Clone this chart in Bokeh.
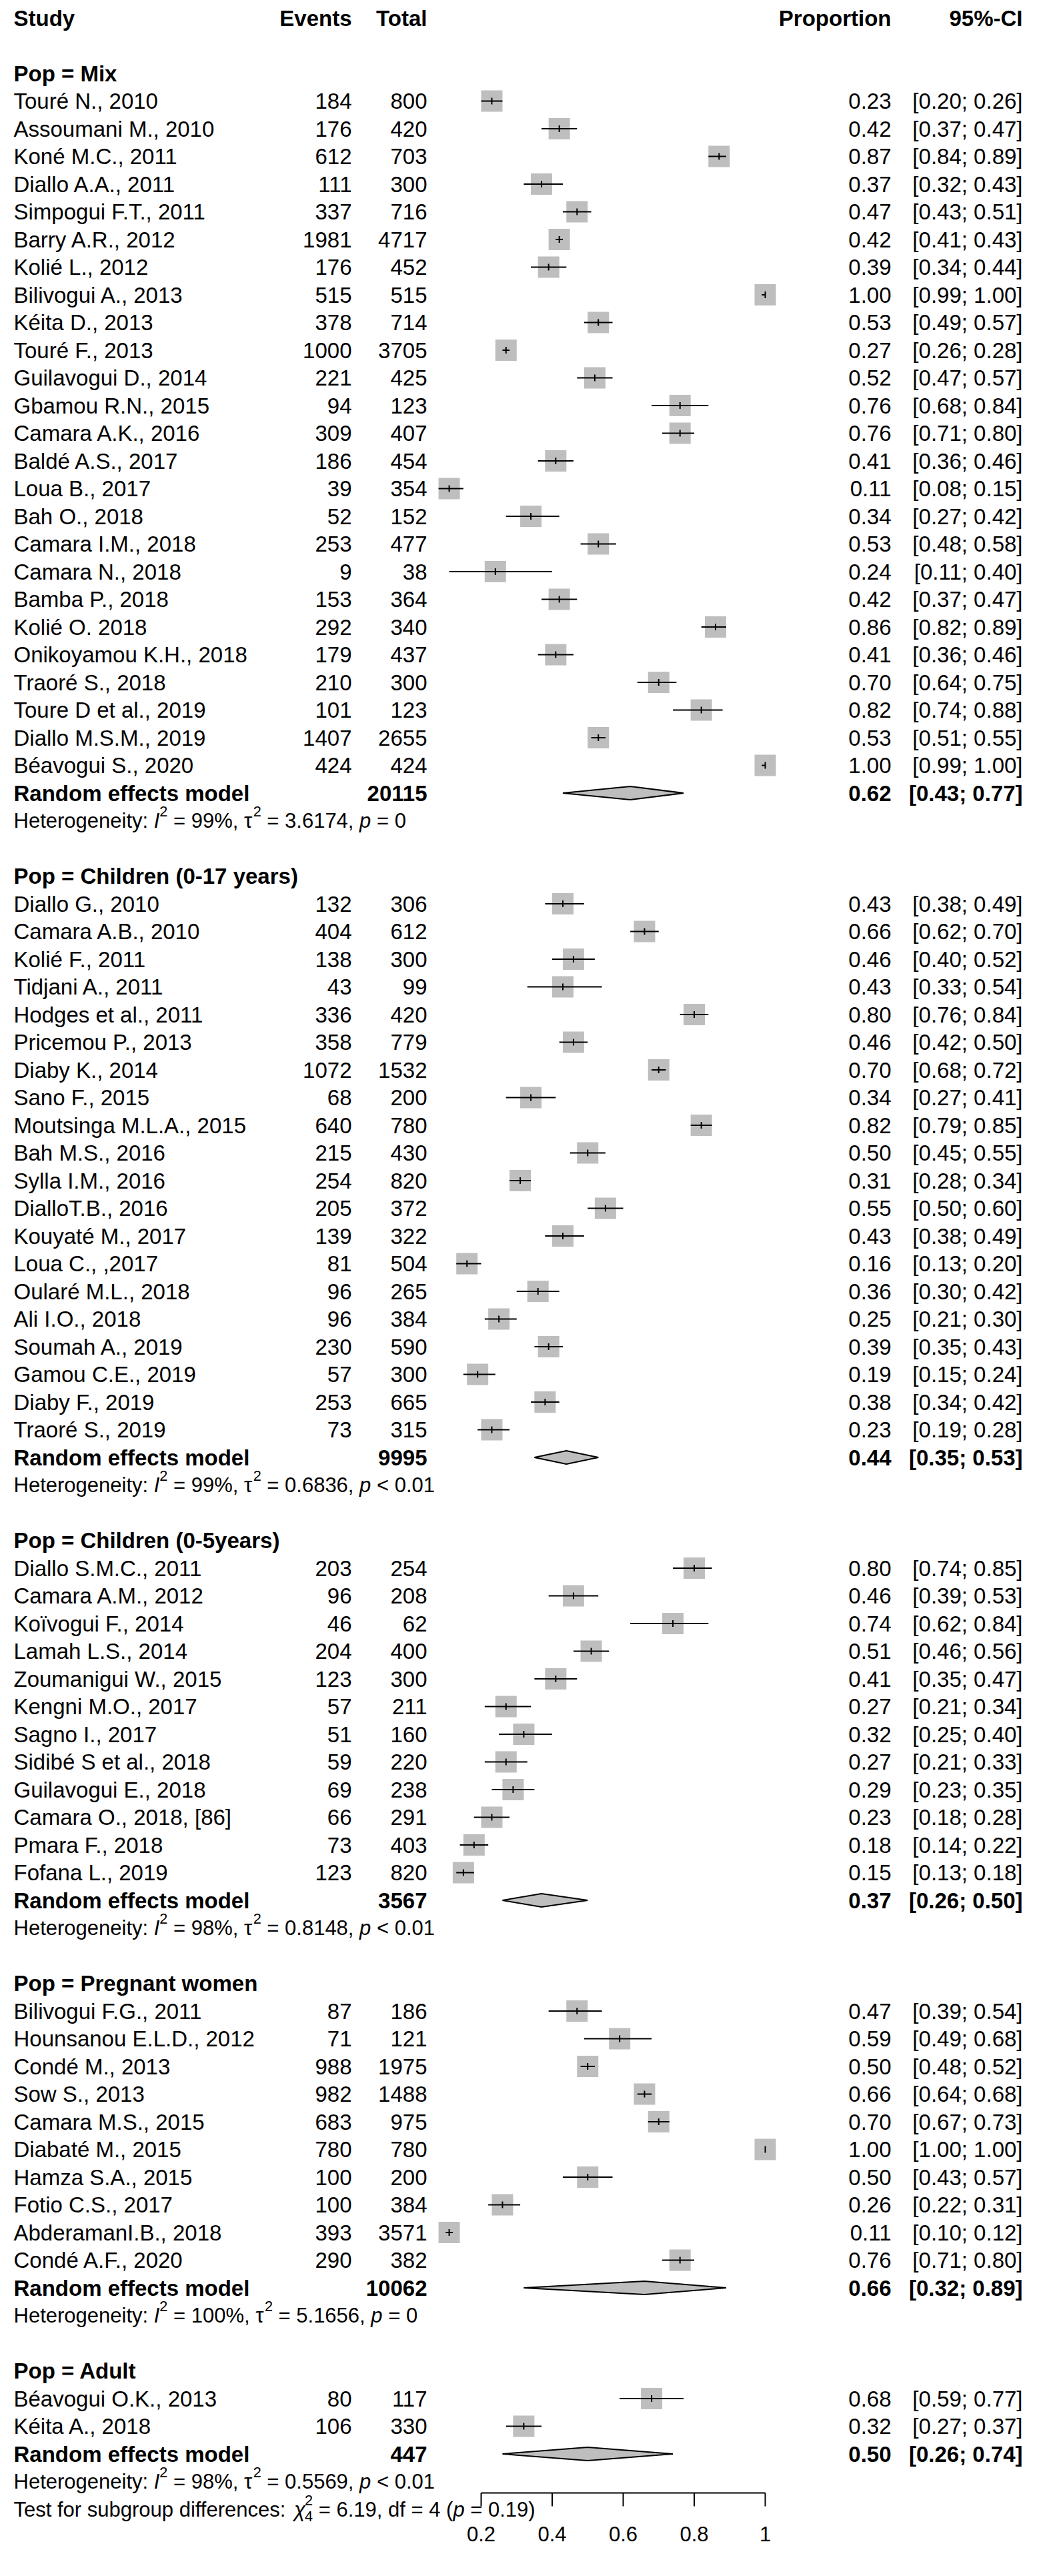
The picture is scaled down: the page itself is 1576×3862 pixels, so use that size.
import math
from bokeh.plotting import figure
from bokeh.models import ColumnDataSource, Range1d
from bokeh.core.properties import value, field
from bokeh.embed import file_html
from bokeh.resources import INLINE

# ---------------- data ----------------
group_names = ["Mix", "Children (0-17 years)", "Children (0-5years)", "Pregnant women", "Adult"]

mix_study = ["Touré N., 2010", "Assoumani M., 2010", "Koné M.C., 2011", "Diallo A.A., 2011",
             "Simpogui F.T., 2011", "Barry A.R., 2012", "Kolié L., 2012", "Bilivogui A., 2013",
             "Kéita D., 2013", "Touré F., 2013", "Guilavogui D., 2014", "Gbamou R.N., 2015",
             "Camara A.K., 2016", "Baldé A.S., 2017", "Loua B., 2017", "Bah O., 2018",
             "Camara I.M., 2018", "Camara N., 2018", "Bamba P., 2018", "Kolié O. 2018",
             "Onikoyamou K.H., 2018", "Traoré S., 2018", "Toure D et al., 2019",
             "Diallo M.S.M., 2019", "Béavogui S., 2020"]
mix_events = [184, 176, 612, 111, 337, 1981, 176, 515, 378, 1000, 221, 94, 309, 186, 39, 52,
              253, 9, 153, 292, 179, 210, 101, 1407, 424]
mix_total = [800, 420, 703, 300, 716, 4717, 452, 515, 714, 3705, 425, 123, 407, 454, 354, 152,
             477, 38, 364, 340, 437, 300, 123, 2655, 424]
mix_prop = [0.23, 0.42, 0.87, 0.37, 0.47, 0.42, 0.39, 1.00, 0.53, 0.27, 0.52, 0.76, 0.76, 0.41,
            0.11, 0.34, 0.53, 0.24, 0.42, 0.86, 0.41, 0.70, 0.82, 0.53, 1.00]
mix_lower = [0.20, 0.37, 0.84, 0.32, 0.43, 0.41, 0.34, 0.99, 0.49, 0.26, 0.47, 0.68, 0.71, 0.36,
             0.08, 0.27, 0.48, 0.11, 0.37, 0.82, 0.36, 0.64, 0.74, 0.51, 0.99]
mix_upper = [0.26, 0.47, 0.89, 0.43, 0.51, 0.43, 0.44, 1.00, 0.57, 0.28, 0.57, 0.84, 0.80, 0.46,
             0.15, 0.42, 0.58, 0.40, 0.47, 0.89, 0.46, 0.75, 0.88, 0.55, 1.00]

ch_study = ["Diallo G., 2010", "Camara A.B., 2010", "Kolié F., 2011", "Tidjani A., 2011",
            "Hodges et al., 2011", "Pricemou P., 2013", "Diaby K., 2014", "Sano F., 2015",
            "Moutsinga M.L.A., 2015", "Bah M.S., 2016", "Sylla I.M., 2016", "DialloT.B., 2016",
            "Kouyaté M., 2017", "Loua C., ,2017", "Oularé M.L., 2018", "Ali I.O., 2018",
            "Soumah A., 2019", "Gamou C.E., 2019", "Diaby F., 2019", "Traoré S., 2019"]
ch_events = [132, 404, 138, 43, 336, 358, 1072, 68, 640, 215, 254, 205, 139, 81, 96, 96, 230, 57, 253, 73]
ch_total = [306, 612, 300, 99, 420, 779, 1532, 200, 780, 430, 820, 372, 322, 504, 265, 384, 590, 300, 665, 315]
ch_prop = [0.43, 0.66, 0.46, 0.43, 0.80, 0.46, 0.70, 0.34, 0.82, 0.50, 0.31, 0.55, 0.43, 0.16,
           0.36, 0.25, 0.39, 0.19, 0.38, 0.23]
ch_lower = [0.38, 0.62, 0.40, 0.33, 0.76, 0.42, 0.68, 0.27, 0.79, 0.45, 0.28, 0.50, 0.38, 0.13,
            0.30, 0.21, 0.35, 0.15, 0.34, 0.19]
ch_upper = [0.49, 0.70, 0.52, 0.54, 0.84, 0.50, 0.72, 0.41, 0.85, 0.55, 0.34, 0.60, 0.49, 0.20,
            0.42, 0.30, 0.43, 0.24, 0.42, 0.28]

u5_study = ["Diallo S.M.C., 2011", "Camara A.M., 2012", "Koïvogui F., 2014", "Lamah L.S., 2014",
            "Zoumanigui W., 2015", "Kengni M.O., 2017", "Sagno I., 2017", "Sidibé S et al., 2018",
            "Guilavogui E., 2018", "Camara O., 2018, [86]", "Pmara F., 2018", "Fofana L., 2019"]
u5_events = [203, 96, 46, 204, 123, 57, 51, 59, 69, 66, 73, 123]
u5_total = [254, 208, 62, 400, 300, 211, 160, 220, 238, 291, 403, 820]
u5_prop = [0.80, 0.46, 0.74, 0.51, 0.41, 0.27, 0.32, 0.27, 0.29, 0.23, 0.18, 0.15]
u5_lower = [0.74, 0.39, 0.62, 0.46, 0.35, 0.21, 0.25, 0.21, 0.23, 0.18, 0.14, 0.13]
u5_upper = [0.85, 0.53, 0.84, 0.56, 0.47, 0.34, 0.40, 0.33, 0.35, 0.28, 0.22, 0.18]

pw_study = ["Bilivogui F.G., 2011", "Hounsanou E.L.D., 2012", "Condé M., 2013", "Sow S., 2013",
            "Camara M.S., 2015", "Diabaté M., 2015", "Hamza S.A., 2015", "Fotio C.S., 2017",
            "AbderamanI.B., 2018", "Condé A.F., 2020"]
pw_events = [87, 71, 988, 982, 683, 780, 100, 100, 393, 290]
pw_total = [186, 121, 1975, 1488, 975, 780, 200, 384, 3571, 382]
pw_prop = [0.47, 0.59, 0.50, 0.66, 0.70, 1.00, 0.50, 0.26, 0.11, 0.76]
pw_lower = [0.39, 0.49, 0.48, 0.64, 0.67, 1.00, 0.43, 0.22, 0.10, 0.71]
pw_upper = [0.54, 0.68, 0.52, 0.68, 0.73, 1.00, 0.57, 0.31, 0.12, 0.80]

ad_study = ["Béavogui O.K., 2013", "Kéita A., 2018"]
ad_events = [80, 106]
ad_total = [117, 330]
ad_prop = [0.68, 0.32]
ad_lower = [0.59, 0.27]
ad_upper = [0.77, 0.37]

re_total = [20115, 9995, 3567, 10062, 447]
re_prop = [0.62, 0.44, 0.37, 0.66, 0.50]
re_lower = [0.43, 0.35, 0.26, 0.32, 0.26]
re_upper = [0.77, 0.53, 0.50, 0.89, 0.74]

het_i2 = ["99%", "99%", "98%", "100%", "98%"]
het_tau2 = ["3.6174", "0.6836", "0.8148", "5.1656", "0.5569"]
het_p = ["= 0", "< 0.01", "< 0.01", "= 0", "< 0.01"]

subgroup_chi2 = "6.19"
subgroup_df = "4"
subgroup_p = "0.19"

tick_values = [0.2, 0.4, 0.6, 0.8, 1.0]
tick_labels = ["0.2", "0.4", "0.6", "0.8", "1"]

groups = [
    (mix_study, mix_events, mix_total, mix_prop, mix_lower, mix_upper),
    (ch_study, ch_events, ch_total, ch_prop, ch_lower, ch_upper),
    (u5_study, u5_events, u5_total, u5_prop, u5_lower, u5_upper),
    (pw_study, pw_events, pw_total, pw_prop, pw_lower, pw_upper),
    (ad_study, ad_events, ad_total, ad_prop, ad_lower, ad_upper),
]

# ---------------- layout ----------------
FONT = "Liberation Sans"
F_MAIN = 33
F_HET = 31
F_AXIS = 31
REF_X0 = 622.5      # reference pixel of proportion 0
REF_PPU = 532.5     # reference pixels per proportion unit
ROW_Y0 = 34.5       # reference pixel of row 0
ROW_H = 41.5
MARGIN = 8
W, H = 1560, 3846
AXIS_Y_REF = 3745
TICK_LEN = 20
AXIS_LABEL_Y_REF = 3806


def ux(X):
    return (X - REF_X0) / REF_PPU


def uy(Y):
    return (Y - ROW_Y0) / ROW_H


COL_NAME = ux(28)
COL_EV = ux(535)
COL_TOT = ux(648)
COL_PROP = ux(1344)
COL_CI = ux(1541)

# Arial / Liberation Sans advance widths (1/1000 em)
AW = {' ': 278, '%': 889, '(': 333, ')': 333, ',': 278, '-': 333, '.': 278, ':': 278,
      '<': 584, '=': 584, 'τ': 440, 'χ': 520}
for c in "0123456789":
    AW[c] = 556
AW.update({'A': 667, 'B': 667, 'C': 722, 'D': 722, 'E': 667, 'F': 611, 'G': 778, 'H': 722,
           'I': 278, 'T': 611, 'a': 556, 'b': 556, 'c': 500, 'd': 556, 'e': 556, 'f': 278,
           'g': 556, 'h': 556, 'i': 222, 'l': 222, 'm': 833, 'n': 556, 'o': 556, 'p': 556,
           'r': 333, 's': 500, 't': 278, 'u': 556, 'y': 500})


def tw(s, size):
    return sum(AW.get(c, 556) for c in s) / 1000.0 * size


def fmt(v):
    return "%.2f" % v


def ci(lo, hi):
    return "[%s; %s]" % (fmt(lo), fmt(hi))


txt_norm = dict(x=[], y=[], text=[], align=[])
txt_bold = dict(x=[], y=[], text=[], align=[])
st = dict(y=[], prop=[], lo=[], hi=[])
dm = dict(xs=[], ys=[])
het = dict(x=[], y=[], text=[], dx=[], dy=[], fs=[], style=[])


def add(d, x, y, t, a):
    d["x"].append(x); d["y"].append(y); d["text"].append(t); d["align"].append(a)


def add_pieces(pieces, r):
    """pieces: (text, style, scale, dy_px, advance)"""
    dx = 0.0
    for text, style, scale, dy, adv in pieces:
        size = F_HET * scale
        lead = len(text) - len(text.lstrip(" "))
        het["x"].append(COL_NAME); het["y"].append(r); het["text"].append(text.strip(" "))
        het["dx"].append(dx + tw(" " * lead, size)); het["dy"].append(dy)
        het["fs"].append("%.1fpx" % size); het["style"].append(style)
        if adv:
            dx += tw(text, size)


# header row
add(txt_bold, COL_NAME, 0, "Study", "left")
add(txt_bold, COL_EV, 0, "Events", "right")
add(txt_bold, COL_TOT, 0, "Total", "right")
add(txt_bold, COL_PROP, 0, "Proportion", "right")
add(txt_bold, COL_CI, 0, "95%-CI", "right")

SUP = -14
SUB = 10
r = 2
for gi, (names, evs, tots, props, los, his) in enumerate(groups):
    add(txt_bold, COL_NAME, r, "Pop = " + group_names[gi], "left")
    r += 1
    for n, e, t, pr, lo, hi in zip(names, evs, tots, props, los, his):
        add(txt_norm, COL_NAME, r, n, "left")
        add(txt_norm, COL_EV, r, str(e), "right")
        add(txt_norm, COL_TOT, r, str(t), "right")
        add(txt_norm, COL_PROP, r, fmt(pr), "right")
        add(txt_norm, COL_CI, r, ci(lo, hi), "right")
        st["y"].append(r); st["prop"].append(pr); st["lo"].append(lo); st["hi"].append(hi)
        r += 1
    add(txt_bold, COL_NAME, r, "Random effects model", "left")
    add(txt_bold, COL_TOT, r, str(re_total[gi]), "right")
    add(txt_bold, COL_PROP, r, fmt(re_prop[gi]), "right")
    add(txt_bold, COL_CI, r, ci(re_lower[gi], re_upper[gi]), "right")
    hh = 10.0 / ROW_H
    dm["xs"].append([re_lower[gi], re_prop[gi], re_upper[gi], re_prop[gi]])
    dm["ys"].append([r, r - hh, r, r + hh])
    r += 1
    add_pieces([("Heterogeneity: ", "normal", 1, 0, True), ("I", "italic", 1, 0, True),
                ("2", "normal", 0.7, SUP, True),
                (" = %s, " % het_i2[gi], "normal", 1, 0, True), ("τ", "normal", 1, 0, True),
                ("2", "normal", 0.7, SUP, True), (" = %s, " % het_tau2[gi], "normal", 1, 0, True),
                ("p", "italic", 1, 0, True), (" " + het_p[gi], "normal", 1, 0, True)], r)
    r += 2
test_row = r - 1
add_pieces([("Test for subgroup differences: ", "normal", 1, 0, True), ("χ", "italic", 1, 0, True),
            ("2", "normal", 0.7, SUP, False), (subgroup_df, "normal", 0.7, SUB, True),
            (" = %s, df = %s (" % (subgroup_chi2, subgroup_df), "normal", 1, 0, True),
            ("p", "italic", 1, 0, True), (" = %s)" % subgroup_p, "normal", 1, 0, True)], test_row)

p = figure(width=W, height=H, output_backend="svg", toolbar_location=None,
           x_range=Range1d(ux(MARGIN), ux(MARGIN + W)),
           y_range=Range1d(uy(MARGIN + H), uy(MARGIN)),
           x_axis_location=None, y_axis_location=None, min_border=0)
p.outline_line_color = None
p.background_fill_color = "white"
p.border_fill_color = "white"
for g in p.grid:
    g.visible = False

GRAY = "#BEBEBE"
ssrc = ColumnDataSource(st)
p.scatter(x="prop", y="y", source=ssrc, marker="square", size=32, fill_color=GRAY, line_color=None)
p.segment(x0="lo", y0="y", x1="hi", y1="y", source=ssrc, line_color="black", line_width=2)
p.scatter(x="prop", y="y", source=ssrc, marker="dash", angle=math.pi / 2, size=10,
          line_color="black", line_width=2)
p.patches(xs="xs", ys="ys", source=ColumnDataSource(dm), fill_color=GRAY, line_color="black",
          line_width=2)

for d, style in ((txt_norm, "normal"), (txt_bold, "bold")):
    p.text(x="x", y="y", text="text", source=ColumnDataSource(d), text_align=field("align"),
           text_baseline="middle", text_font=value(FONT), text_font_size="%dpx" % F_MAIN,
           text_font_style=style, text_color="black")

p.text(x="x", y="y", text="text", source=ColumnDataSource(het), x_offset=field("dx"),
       y_offset=field("dy"), text_font_size=field("fs"), text_font_style=field("style"),
       text_align="left", text_baseline="middle", text_font=value(FONT), text_color="black")

# proportion axis (line, ticks and labels through the data scales)
ay = uy(AXIS_Y_REF)
p.segment(x0=[tick_values[0]], x1=[tick_values[-1]], y0=[ay], y1=[ay], line_color="black",
          line_width=2)
p.segment(x0=tick_values, x1=tick_values, y0=[ay] * len(tick_values),
          y1=[uy(AXIS_Y_REF + TICK_LEN)] * len(tick_values), line_color="black", line_width=2)
p.text(x=tick_values, y=[uy(AXIS_LABEL_Y_REF)] * len(tick_values), text=tick_labels,
       text_align="center", text_baseline="middle", text_font=value(FONT),
       text_font_size="%dpx" % F_AXIS, text_color="black")

open("out.html", "w").write(file_html(p, INLINE))
